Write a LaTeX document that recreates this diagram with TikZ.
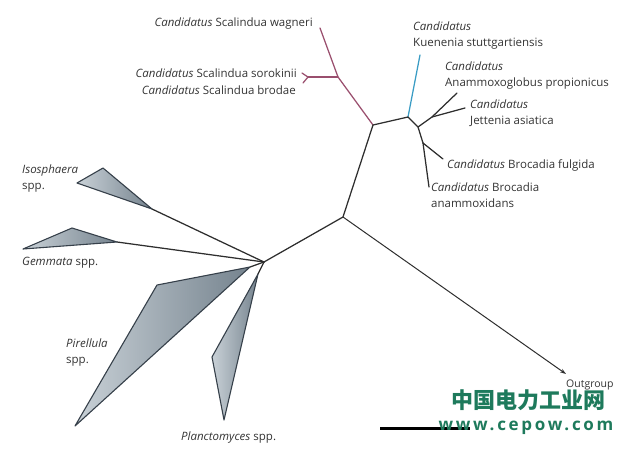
\documentclass[tikz,border=0pt]{standalone}
\usepackage{fontspec}
\setmainfont{Open Sans}
\newfontfamily\cjkfont{Noto Sans CJK SC}
\newfontfamily\wmfont[LetterSpace=16]{Open Sans}
\usetikzlibrary{arrows.meta}
\definecolor{txt}{HTML}{333333}
\definecolor{branch}{HTML}{2E2E2E}
\definecolor{scal}{HTML}{9A4F6E}
\definecolor{kuen}{HTML}{3A9CC4}
\definecolor{triline}{HTML}{36404A}
\definecolor{trilight}{HTML}{C9D1D7}
\definecolor{tridark}{HTML}{75838E}
\definecolor{wm}{HTML}{1E7A5C}
\tikzset{
  lab/.style={inner sep=0pt, text=txt, font=\fontsize{11.5}{16}\selectfont, align=left},
  br/.style={draw=branch, line width=1.25pt, line cap=round, line join=round},
  clade/.style={draw=triline, line width=1.1pt, line join=round, left color=trilight, right color=tridark},
}
\begin{document}
\begin{tikzpicture}[x=1pt,y=-1pt]
\useasboundingbox (0,0) rectangle (627,456);
% tree coordinates
\coordinate (wag) at (320,28);
\coordinate (s1) at (338,77);
\coordinate (sf) at (308,77);
\coordinate (sor) at (302,73);
\coordinate (bro) at (303,83);
\coordinate (A) at (373,125);
\coordinate (B) at (408,117);
\coordinate (kue) at (420,55);
\coordinate (C) at (418,127);
\coordinate (D) at (432,117);
\coordinate (ana) at (457,93);
\coordinate (jet) at (465,108);
\coordinate (E) at (423,143);
\coordinate (ful) at (443,159);
\coordinate (amx) at (429,187);
\coordinate (R) at (343,217);
\coordinate (out) at (566,374);
\coordinate (H) at (264,262);
\coordinate (isoA) at (152,209);
\coordinate (gemA) at (117,242);
\coordinate (pirA) at (250,267);
\coordinate (plaA) at (258,274);
% Scalindua (purple)
\draw[br, draw=scal] (wag) -- (s1) -- (A);
\draw[br, draw=scal] (s1) -- (sf);
\draw[br, draw=scal] (sor) -- (sf) -- (bro);
% Kuenenia (blue)
\draw[br, draw=kuen] (B) -- (kue);
% others
\draw[br] (A) -- (B) -- (C) -- (E);
\draw[br] (C) -- (D) -- (ana);
\draw[br] (D) -- (jet);
\draw[br] (E) -- (ful);
\draw[br] (E) -- (amx);
\draw[br] (A) -- (R) -- (H);
\draw[br, line width=1pt, -{Stealth[length=6pt,width=4pt]}] (R) -- (out);
% planctomycete clades
\draw[br] (H) -- (isoA);
\draw[br] (H) -- (gemA);
\draw[br] (H) -- (pirA);
\draw[br] (H) -- (plaA);
\path[clade] (isoA) -- (103,168) -- (77,183) -- cycle;
\path[clade] (gemA) -- (72,228) -- (23,249) -- cycle;
\path[clade] (pirA) -- (157,285) -- (75,426) -- cycle;
\path[clade] (plaA) -- (212,357) -- (224,420) -- cycle;
% labels
\node[lab, anchor=base east] (lwag) at (313,26) {\textit{Candidatus} Scalindua wagneri};
\node[lab, anchor=base east] (lsor) at (297,77) {\textit{Candidatus} Scalindua sorokinii};
\node[lab, anchor=base east] (lbro) at (296,94) {\textit{Candidatus} Scalindua brodae};
\node[lab, anchor=north west] (lkue) at (413,22) {\textit{Candidatus}\\Kuenenia stuttgartiensis};
\node[lab, anchor=north west] (lana) at (445,62) {\textit{Candidatus}\\Anammoxoglobus propionicus};
\node[lab, anchor=north west] (ljet) at (470,100) {\textit{Candidatus}\\Jettenia asiatica};
\node[lab, anchor=base west] (lful) at (447,168) {\textit{Candidatus} Brocadia fulgida};
\node[lab, anchor=north west] (lamx) at (431,183) {\textit{Candidatus} Brocadia\\anammoxidans};
\node[lab, anchor=north west] (liso) at (22,165) {\textit{Isosphaera}\\spp.};
\node[lab, anchor=base west] (lgem) at (22,265) {\textit{Gemmata} spp.};
\node[lab, anchor=north west] (lpir) at (66,339) {\textit{Pirellula}\\spp.};
\node[lab, anchor=base west] (lpla) at (181,440) {\textit{Planctomyces} spp.};
\node[lab, anchor=base west, font=\fontsize{10.5}{12}\selectfont] (lout) at (566,387) {Outgroup};
% scale bar
\draw[line width=3pt, black] (380,428) -- (470,428);
% watermark
\node[inner sep=0pt, anchor=center, text=wm, font=\cjkfont\bfseries\fontsize{22}{24}\selectfont] (wm1) at (528,400) {中国电力工业网};
\node[inner sep=0pt, anchor=center, text=wm, font=\wmfont\bfseries\fontsize{17}{18}\selectfont] (wm2) at (526,428) {www.cepow.com};
\end{tikzpicture}
\end{document}
